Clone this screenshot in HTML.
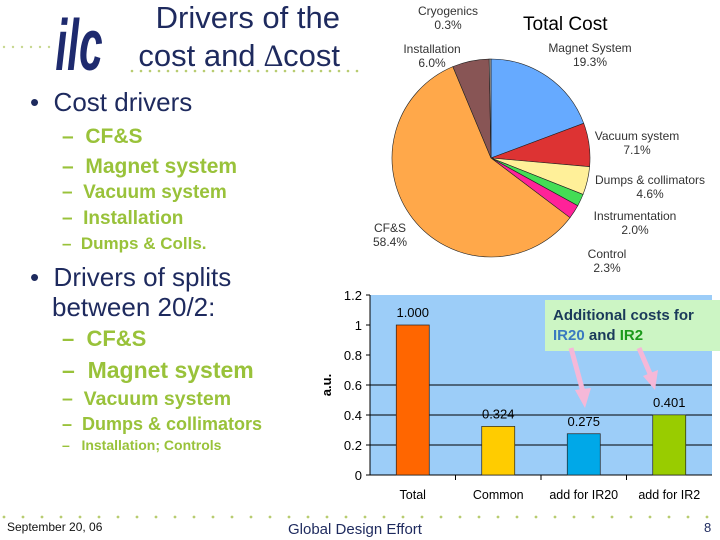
<!DOCTYPE html>
<html><head><meta charset="utf-8"><style>
body{margin:0;width:720px;height:540px;background:#fff;overflow:hidden;font-family:"Liberation Sans",sans-serif;position:relative}
.t{position:absolute;white-space:nowrap;line-height:1}
.nv{color:#1e2a5e}
.g{color:#99c23a;font-weight:bold}
</style></head><body>
<svg width="720" height="540" style="position:absolute;left:0;top:0">
 <g id="dots"></g>
 <text x="0" y="0" font-family="Liberation Sans" font-weight="bold" font-style="italic" font-size="50" fill="#1e2a6e" text-anchor="middle" transform="translate(79,70) scale(0.85,1.45)">ilc</text>
 <g id="pie"></g>
 <g id="bar"></g>
</svg>
<div class="t nv" style="right:380px;top:2px;font-size:31px;text-align:right">Drivers of the</div>
<div class="t nv" style="right:380px;top:40px;font-size:31px">cost and <span style="font-family:'Liberation Serif'">∆</span>cost</div>
<div class="t nv" style="left:30px;top:89px;font-size:26px">•&nbsp; Cost drivers</div>
<div class="t g" style="left:62px;top:126px;font-size:21px">– &nbsp;CF&amp;S</div>
<div class="t g" style="left:62px;top:156px;font-size:21px">– &nbsp;Magnet system</div>
<div class="t g" style="left:62px;top:183px;font-size:19px">– &nbsp;Vacuum system</div>
<div class="t g" style="left:62px;top:209px;font-size:19px">– &nbsp;Installation</div>
<div class="t g" style="left:62px;top:235px;font-size:17px">– &nbsp;Dumps &amp; Colls.</div>
<div class="t nv" style="left:30px;top:262px;font-size:26px;line-height:30px">•&nbsp; Drivers of splits<br><span style="padding-left:22px">between 20/2:</span></div>
<div class="t g" style="left:62px;top:328px;font-size:22px">– &nbsp;CF&amp;S</div>
<div class="t g" style="left:62px;top:359px;font-size:23px">– &nbsp;Magnet system</div>
<div class="t g" style="left:62px;top:390px;font-size:19.5px">– &nbsp;Vacuum system</div>
<div class="t g" style="left:62px;top:415px;font-size:18px">– &nbsp;Dumps &amp; collimators</div>
<div class="t g" style="left:62px;top:438px;font-size:14px">– &nbsp; Installation; Controls</div>
<div class="t" style="left:7px;top:521px;font-size:12px;color:#111">September 20, 06</div>
<div class="t nv" style="left:288px;top:522px;font-size:15px">Global Design Effort</div>
<div class="t nv" style="left:704px;top:521px;font-size:13px">8</div>
<div class="t" style="left:523px;top:15px;font-size:19px;color:#000">Total Cost</div>
<div style="position:absolute;left:545px;top:300px;width:175px;height:51px;background:#ccf5c4"></div>
<div class="t" style="left:553px;top:306px;font-size:15px;font-weight:bold;line-height:20px;color:#1a3a5a">Additional costs for<br><span style="color:#3a7ac0">IR20</span> and <span style="color:#1a9a1a">IR2</span></div>
<svg width="720" height="540" style="position:absolute;left:0;top:0">
 <path d="M571,348 L583,392" stroke="#f5b8d8" stroke-width="5"/>
 <path d="M575,390 L585,408 L591,388 Z" fill="#f5b8d8"/>
 <path d="M639,348 L651,376" stroke="#f5b8d8" stroke-width="5"/>
 <path d="M643,376 L655,390 L658,370 Z" fill="#f5b8d8"/>
</svg>
<script>
const NS='http://www.w3.org/2000/svg';
function mk(p,tag,a){const e=document.createElementNS(NS,tag);for(const k in a)e.setAttribute(k,a[k]);p.appendChild(e);return e;}
const dg=document.getElementById('dots');
for(let x=4;x<50;x+=9){mk(dg,'circle',{cx:x,cy:47,r:1.2,fill:'#c8d890'});}
for(let x=132;x<362;x+=9){mk(dg,'circle',{cx:x,cy:71,r:1.3,fill:'#b8cc70'});}
for(let x=4;x<720;x+=19){mk(dg,'circle',{cx:x,cy:517,r:1.4,fill:'#b8cc70'});}

const pieLabels=['Magnet System','Vacuum system','Dumps & collimators','Instrumentation','Control','CF&S','Installation','Cryogenics'];
const pieValues=[19.3,7.1,4.6,2.0,2.3,58.4,6.0,0.3];
const pieColors=['#66aaff','#dd3333','#fff099','#44dd55','#ff2299','#ffa84a','#885555','#aaaaaa'];
const lblPos=[[590,52],[637,140],[650,184],[635,220],[607,258],[390,232],[432,53],[448,15]];
const pg=document.getElementById('pie');
const cx=491,cy=158,r=99;
const tot=pieValues.reduce((a,b)=>a+b,0);
let ang=0;
pieValues.forEach((v,i)=>{
 const a0=ang, a1=ang+v/tot*2*Math.PI; ang=a1;
 const x0=cx+r*Math.sin(a0),y0=cy-r*Math.cos(a0),x1=cx+r*Math.sin(a1),y1=cy-r*Math.cos(a1);
 const p=mk(pg,'path',{d:`M${cx},${cy} L${x0},${y0} A${r},${r} 0 ${a1-a0>Math.PI?1:0} 1 ${x1},${y1} Z`,fill:pieColors[i],stroke:'#222','stroke-width':0.6});
 
 
 const t=mk(pg,'text',{x:lblPos[i][0],y:lblPos[i][1],'font-size':12,'text-anchor':'middle',fill:'#333','font-family':'Liberation Sans'});
 
 
 const s1=mk(t,'tspan',{x:lblPos[i][0],dy:0});s1.textContent=pieLabels[i];
 const s2=mk(t,'tspan',{x:lblPos[i][0],dy:14});s2.textContent=v.toFixed(1)+'%';
});

const barCats=['Total','Common','add for IR20','add for IR2'];
const barVals=[1.000,0.324,0.275,0.401];
const barColors=['#ff6600','#ffcc00','#00a8e8','#99cc00'];
const yTicks=[0,0.2,0.4,0.6,0.8,1,1.2];
const yTickLabels=['0','0.2','0.4','0.6','0.8','1','1.2'];
const bg=document.getElementById('bar');
const X0=370,X1=712,Y0=475,Y1=295,ymax=1.2;
const ys=v=>Y0-(v/ymax)*(Y0-Y1);
const bw=(X1-X0)/barCats.length;
const bgr=mk(bg,'rect',{x:X0,y:Y1,width:X1-X0,height:Y0-Y1,fill:'#9ccdf8'});


yTicks.forEach((t,i)=>{
 if(t>0&&t<0.7){const l=mk(bg,'line',{x1:X0,x2:X1,y1:ys(t),y2:ys(t),stroke:'#000','stroke-width':1});
  
  }
 const tk=mk(bg,'line',{x1:X0-4,x2:X0,y1:ys(t),y2:ys(t),stroke:'#000'});
 
 
 const tx=mk(bg,'text',{x:X0-8,y:ys(t)+5,'font-size':13,'text-anchor':'end','font-family':'Liberation Sans',fill:'#000'});
 tx.textContent=yTickLabels[i];
 
 
});
const ax=mk(bg,'line',{x1:X0,x2:X0,y1:Y1,y2:Y0,stroke:'#000'});


const xax=mk(bg,'line',{x1:X0,x2:X1,y1:Y0,y2:Y0,stroke:'#000'});


const yt=mk(bg,'text',{x:0,y:0,'font-size':13,'font-weight':'bold','text-anchor':'middle','font-family':'Liberation Sans',transform:`translate(331,385) rotate(-90)`});
yt.textContent='a.u.';


barCats.forEach((c,i)=>{
 const cxb=X0+bw*(i+0.5), w=33;
 const b=mk(bg,'rect',{x:cxb-w/2,y:ys(barVals[i]),width:w,height:Y0-ys(barVals[i]),fill:barColors[i],stroke:'#222','stroke-width':0.7});
 
 
 const v=mk(bg,'text',{x:cxb,y:ys(barVals[i])-8,'font-size':13,'text-anchor':'middle','font-family':'Liberation Sans'});
 v.textContent=barVals[i].toFixed(3);
 
 
 const cl=mk(bg,'text',{x:cxb,y:499,'font-size':12.5,'text-anchor':'middle','font-family':'Liberation Sans'});
 cl.textContent=c;
 
 
 if(i>0){const sep=mk(bg,'line',{x1:X0+bw*i,x2:X0+bw*i,y1:Y0,y2:Y0+5,stroke:'#000'});
  
  }
});
</script>
</body></html>
